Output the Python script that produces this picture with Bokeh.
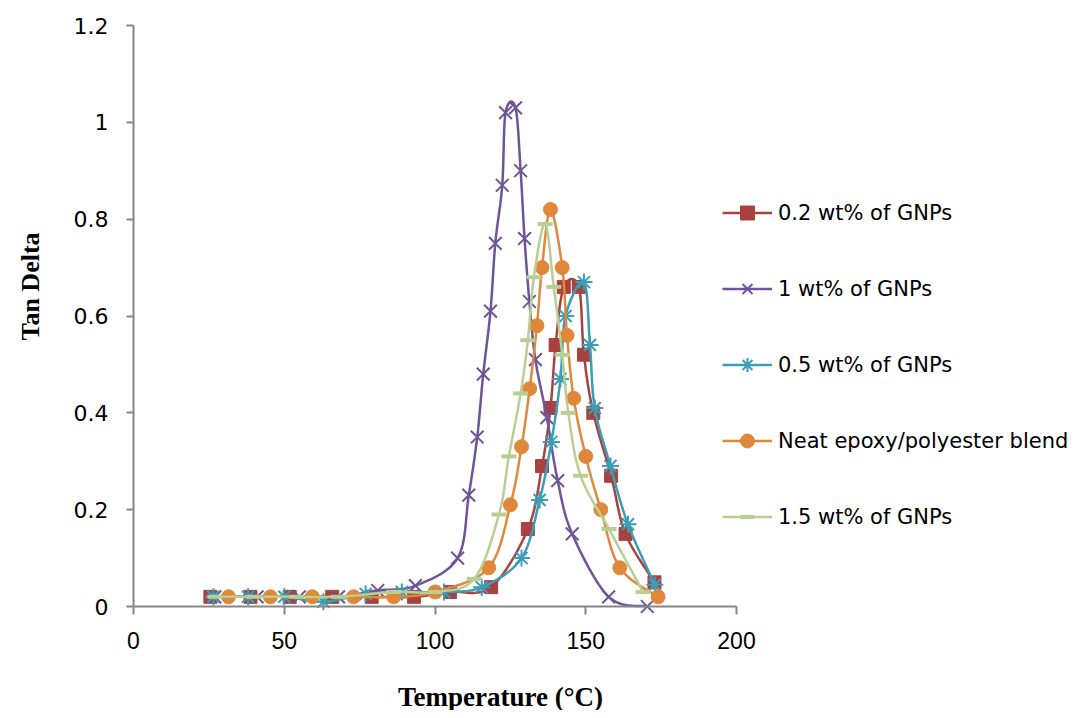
import math
import numpy as np
from bokeh.plotting import figure
from bokeh.models import (Range1d, Legend, LegendItem, Label,
                          CustomJSTickFormatter, FixedTicker)
from bokeh.embed import file_html
from bokeh.resources import INLINE

# ---------------- data ----------------
temp_02 = [25.5, 38.8, 51.8, 65.9, 79, 93, 105, 118.6, 130.8, 135.5, 138.3,
           140, 142.7, 147.7, 149.4, 152.5, 158.4, 163.2, 172.8]
tan_02 = [0.02, 0.02, 0.02, 0.02, 0.02, 0.02, 0.03, 0.04, 0.16, 0.29, 0.41,
          0.54, 0.66, 0.66, 0.52, 0.40, 0.27, 0.15, 0.05]

temp_1 = [27, 41, 55, 68, 81, 93.5, 107.5, 111.2, 114, 116, 118.4, 120,
          122.3, 123.4, 126.7, 128.4, 129.7, 131.3, 133.3, 137.1, 140.7,
          145.5, 157.6, 170.4]
tan_1 = [0.02, 0.02, 0.02, 0.02, 0.033, 0.043, 0.1, 0.23, 0.35, 0.48, 0.61,
         0.75, 0.87, 1.02, 1.03, 0.9, 0.76, 0.63, 0.51, 0.39, 0.26, 0.15,
         0.02, 0.0]

temp_05 = [26.5, 38, 50, 63, 77, 89, 103, 115.5, 128.7, 134.7, 138.6, 141.6,
           143.3, 149.4, 151.4, 153, 158.2, 164, 172.9]
tan_05 = [0.02, 0.02, 0.02, 0.01, 0.026, 0.03, 0.03, 0.04, 0.1, 0.22, 0.34,
          0.47, 0.6, 0.67, 0.54, 0.41, 0.29, 0.17, 0.045]

temp_neat = [31.5, 45.4, 59.3, 73, 86.3, 100, 117.8, 125, 128.7, 131.4,
             133.8, 135.5, 138.3, 142.2, 143.8, 146, 150, 155, 161.3, 174]
tan_neat = [0.02, 0.02, 0.02, 0.02, 0.02, 0.03, 0.08, 0.21, 0.33, 0.45,
            0.58, 0.70, 0.82, 0.70, 0.56, 0.43, 0.31, 0.20, 0.08, 0.02]

temp_15 = [27, 40, 54, 68, 86.3, 100, 113, 121.2, 124.5, 128.4, 130.8,
           132.8, 136.5, 139.4, 142.2, 144.2, 148.3, 157.7, 169]
tan_15 = [0.02, 0.02, 0.02, 0.02, 0.03, 0.03, 0.057, 0.19, 0.31, 0.44, 0.55,
          0.68, 0.79, 0.66, 0.52, 0.40, 0.27, 0.16, 0.03]

labels = ["0.2 wt% of GNPs", "1 wt% of GNPs", "0.5 wt% of GNPs",
          "Neat epoxy/polyester blend", "1.5 wt% of GNPs"]
x_ticks = [0, 50, 100, 150, 200]
y_ticks = [0, 0.2, 0.4, 0.6, 0.8, 1.0, 1.2]
x_title = "Temperature (°C)"
y_title = "Tan Delta"

# ---------------- styles ----------------
series = [
    (temp_02, tan_02, "#A8423F", "square", 13, 1),
    (temp_1, tan_1, "#6E5498", "x", 18, 2),
    (temp_05, tan_05, "#3C9DB6", "asterisk", 17, 2),
    (temp_neat, tan_neat, "#E0883A", "circle", 14, 1),
    (temp_15, tan_15, "#B7CF92", "dash", 15, 4),
]


def smooth(xs, ys, n=16):
    """Excel-like smoothed line (Catmull-Rom Bezier) through the points."""
    x = np.asarray(xs, float)
    y = np.asarray(ys, float)
    P = np.column_stack([x, y])
    P = np.vstack([P[0], P, P[-1]])
    t = np.linspace(0, 1, n + 1)[1:][:, None]
    out = [P[1]]
    for i in range(len(x) - 1):
        p0, p1, p2, p3 = P[i], P[i + 1], P[i + 2], P[i + 3]
        c1 = p1 + (p2 - p0) / 6.0
        c2 = p2 - (p3 - p1) / 6.0
        seg = ((1 - t) ** 3) * p1 + 3 * ((1 - t) ** 2) * t * c1 \
            + 3 * (1 - t) * t ** 2 * c2 + t ** 3 * p2
        out.extend(seg)
    out = np.array(out)
    return out[:, 0], out[:, 1]


# canvas geometry: the frame fills the whole canvas, the axes are pinned
W, H = 1079, 710
AX_L, AX_R = 133.0, 736.0      # pixel of x = 0 and x = 200
AX_B, AX_T = 606.0, 25.0       # pixel of y = 0 and y = 1.2
sx = (AX_R - AX_L) / 200.0
sy = (AX_B - AX_T) / 1.2

p = figure(x_range=Range1d(-AX_L / sx, (W - AX_L) / sx),
           y_range=Range1d(-(H - AX_B) / sy, AX_B / sy),
           frame_width=W, frame_height=H, min_border=0,
           output_backend="svg", toolbar_location=None)

p.outline_line_color = None
p.xgrid.visible = False
p.ygrid.visible = False
p.background_fill_color = "white"
p.border_fill_color = "white"

for ax in (p.xaxis, p.yaxis):
    ax.fixed_location = 0
    ax.axis_line_color = "#868686"
    ax.axis_line_width = 2
    ax.major_tick_line_color = "#868686"
    ax.major_tick_line_width = 2
    ax.major_tick_in = 0
    ax.minor_tick_line_color = None
    ax.major_label_text_color = "#000000"

p.xaxis.bounds = (0, 200)
p.xaxis.ticker = FixedTicker(ticks=x_ticks)
p.xaxis.major_tick_out = 8
p.xaxis.major_label_standoff = 17
p.xaxis.major_label_text_font = "Liberation Sans Narrow, Liberation Sans"
p.xaxis.major_label_text_font_size = "23px"

p.yaxis.bounds = (0, 1.2)
p.yaxis.ticker = FixedTicker(ticks=y_ticks)
p.yaxis.major_tick_out = 7
p.yaxis.major_label_standoff = 18
p.yaxis.major_label_text_font = "DejaVu Sans"
p.yaxis.major_label_text_font_size = "22px"
p.yaxis.formatter = CustomJSTickFormatter(
    code="return (Math.round(tick*10)/10).toString();")

items = []
for (xs, ys, col, mk, sz, lw), lab in zip(series, labels):
    lx, ly = smooth(xs, ys)
    lr = p.line(lx, ly, line_color=col, line_width=2.5)
    mr = p.scatter(xs, ys, marker=mk, size=sz, line_color=col,
                   line_width=lw, fill_color=col)
    items.append(LegendItem(label=lab, renderers=[lr, mr]))

legend = Legend(items=items, location=(722, 176), orientation="vertical",
                glyph_width=50, glyph_height=35, label_height=35,
                spacing=41, label_standoff=6, padding=0, margin=0,
                border_line_color=None, background_fill_alpha=0,
                label_text_font="DejaVu Sans", label_text_font_size="21px",
                label_text_color="#000000")
p.add_layout(legend)

p.add_layout(Label(x=(30 - AX_L) / sx, y=(AX_B - 286) / sy, text=y_title,
                   angle=math.pi / 2,
                   text_align="center", text_baseline="middle",
                   text_font="Liberation Serif", text_font_style="bold",
                   text_font_size="26px", text_color="#000000"))
p.add_layout(Label(x=(500 - AX_L) / sx, y=(AX_B - 696) / sy, text=x_title,
                   text_align="center", text_baseline="middle",
                   text_font="Liberation Serif", text_font_style="bold",
                   text_font_size="27px", text_color="#000000"))

open("out.html", "w").write(file_html(p, INLINE))
